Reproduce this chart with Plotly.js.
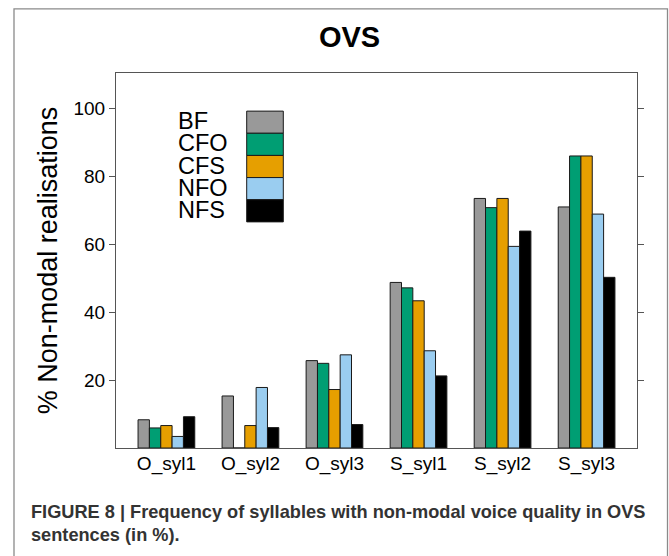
<!DOCTYPE html>
<html>
<head>
<meta charset="utf-8">
<script src="https://cdn.plot.ly/plotly-3.0.1.min.js"></script>
<style>
  html, body { margin: 0; padding: 0; background: #fff; }
  #chart { width: 669px; height: 556px; }
</style>
</head>
<body>
<div id="chart"></div>
<script>
// ---- data ----
const categories = ["O_syl1", "O_syl2", "O_syl3", "S_syl1", "S_syl2", "S_syl3"];
const seriesNames = ["BF", "CFO", "CFS", "NFO", "NFS"];
const BF  = [8.3, 15.3, 25.7, 48.7, 73.4, 70.9];
const CFO = [5.9, 0, 24.9, 47.1, 70.7, 85.9];
const CFS = [6.6, 6.6, 17.2, 43.3, 73.4, 85.9];
const NFO = [3.4, 17.8, 27.4, 28.6, 59.3, 68.8];
const NFS = [9.2, 6.0, 6.9, 21.2, 63.8, 50.2];
const yTickVals = [20, 40, 60, 80, 100];
const titleText = "OVS";
const yTitle = "% Non-modal realisations";
const caption1 = "FIGURE 8 | Frequency of syllables with non-modal voice quality in OVS";
const caption2 = "sentences (in %).";

// ---- style ----
const colors = ["#999999", "#009E73", "#E69F00", "#9ACDF0", "#000000"];
const seriesValues = [BF, CFO, CFS, NFO, NFS];
const W = 669, H = 556;
const M = {l: 116, r: 32, t: 72.5, b: 107.7};
const PW = W - M.l - M.r, PH = H - M.t - M.b;
const px = x => (x - M.l) / PW;           // pixel x -> paper
const py = y => (H - M.b - y) / PH;       // pixel y -> paper
const FONT = "Liberation Sans, Arial, sans-serif";

const traces = seriesNames.map((name, i) => ({
  type: "bar",
  name: name,
  x: categories,
  y: seriesValues[i],
  marker: {color: colors[i], line: {color: "#1a1a1a", width: 1}},
  showlegend: false,
  hoverinfo: "x+y+name"
}));

const shapes = [];
const annotations = [];

// legend: text left, swatch right
const boxTop = 110.7, boxH = 22.2;
seriesNames.forEach((name, i) => {
  const y0 = boxTop + i * boxH, y1 = y0 + boxH;
  shapes.push({
    type: "rect", xref: "paper", yref: "paper",
    x0: px(246.7), x1: px(283.3), y0: py(y1), y1: py(y0),
    fillcolor: colors[i], line: {color: "#1a1a1a", width: 1}
  });
  annotations.push({
    xref: "paper", yref: "paper", x: px(175.5), y: py((y0 + y1) / 2 - 1),
    xanchor: "left", yanchor: "middle", showarrow: false,
    text: name, font: {family: FONT, size: 23.5, color: "#000"}
  });
});

// outer figure frame
shapes.push({
  type: "rect", xref: "paper", yref: "paper",
  x0: px(14), x1: px(667.5), y0: py(570), y1: py(8.3),
  line: {color: "#8a8a8a", width: 1.3}, fillcolor: "rgba(0,0,0,0)", layer: "below"
});

// caption
annotations.push({
  xref: "paper", yref: "paper", x: px(28.5), y: py(512.7),
  xanchor: "left", yanchor: "middle", showarrow: false,
  text: "<b>" + caption1 + "</b>", font: {family: FONT, size: 18.2, color: "#333"}
});
annotations.push({
  xref: "paper", yref: "paper", x: px(28.5), y: py(535.5),
  xanchor: "left", yanchor: "middle", showarrow: false,
  text: "<b>" + caption2 + "</b>", font: {family: FONT, size: 18.2, color: "#333"}
});

const layout = {
  width: W, height: H,
  margin: M,
  paper_bgcolor: "#fff", plot_bgcolor: "#fff",
  barmode: "group", bargap: 0.325, bargroupgap: 0,
  font: {family: FONT, color: "#000"},
  title: {
    text: "<b>" + titleText + "</b>",
    font: {family: FONT, size: 29, color: "#000"},
    x: 349.5 / W, xref: "container", xanchor: "center",
    y: 1 - 37 / H, yref: "container", yanchor: "middle"
  },
  xaxis: {
    type: "category", range: [-0.6, 5.6],
    showline: true, linecolor: "#555", linewidth: 1, mirror: true,
    ticks: "", showgrid: false, zeroline: false,
    ticklabelstandoff: -2,
    tickfont: {family: FONT, size: 19, color: "#000"},
    fixedrange: true
  },
  yaxis: {
    range: [0, 110.3],
    tickvals: yTickVals, ticktext: yTickVals.map(String),
    ticks: "outside", ticklen: 6, tickcolor: "#555", tickwidth: 1,
    showline: true, linecolor: "#555", linewidth: 1, mirror: "ticks",
    showgrid: false, zeroline: false,
    tickfont: {family: FONT, size: 19, color: "#000"},
    title: {text: yTitle, font: {family: FONT, size: 27, color: "#000"}, standoff: 8},
    fixedrange: true
  },
  shapes: shapes,
  annotations: annotations
};

Plotly.newPlot("chart", traces, layout, {displayModeBar: false, staticPlot: true});
</script>
</body>
</html>
